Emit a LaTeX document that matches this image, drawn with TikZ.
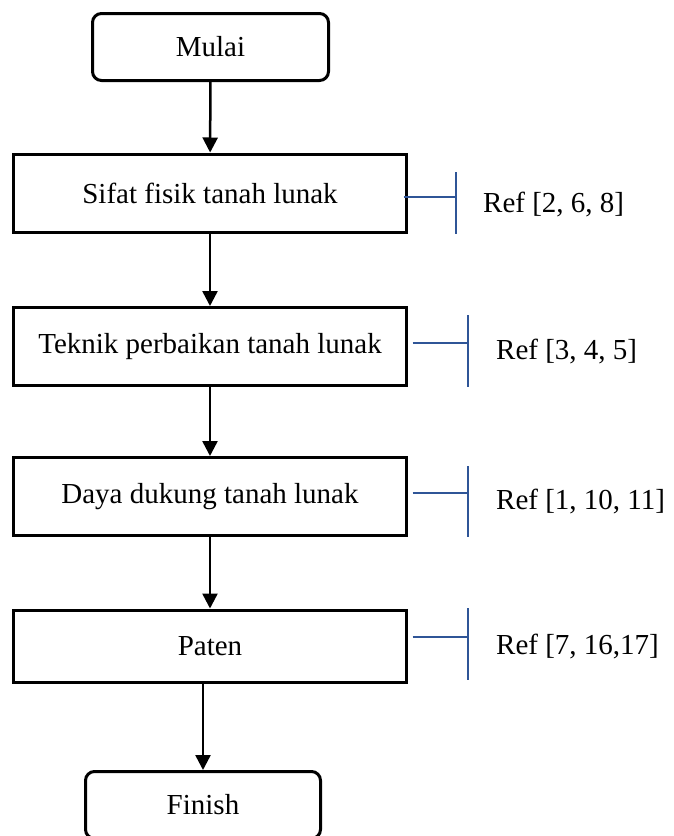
\documentclass[tikz,border=0pt]{standalone}
\usepackage{fontspec}
\setmainfont{Liberation Serif}
\usetikzlibrary{arrows.meta, positioning}
\definecolor{refblue}{RGB}{47,85,151}
\tikzset{
  stepbox/.style={draw, line width=3pt, minimum width=393pt, minimum height=78pt, inner sep=0pt},
  termbox/.style={draw, line width=3pt, rounded corners=9pt, minimum width=236pt, minimum height=67pt, inner sep=0pt},
  flow/.style={line width=2.5pt, -{Triangle[width=15pt,length=15pt]}},
  refline/.style={draw=refblue, line width=1.8pt},
  reflabel/.style={anchor=west, inner sep=0pt},
}

\begin{document}
\begin{tikzpicture}[x=1pt, y=-1pt, font=\fontsize{29}{34}\selectfont]
  \useasboundingbox (0,0) rectangle (673,836);
  \clip (0,0) rectangle (673,836);
  % flow
  \node[termbox] (mulai) at (210.5,47) {Mulai};
  \node[stepbox] (sifat) at (210,193) {Sifat fisik tanah lunak};
  \node[stepbox] (teknik) at (210,346.5) {Teknik perbaikan tanah lunak};
  \node[stepbox] (daya) at (210,496.5) {Daya dukung tanah lunak};
  \node[stepbox, minimum height=72pt] (paten) at (210,646) {Paten};
  \node[termbox, minimum width=235pt] (finish) at (203,805) {Finish};
  \draw[flow] (mulai) -- (sifat);
  \draw[flow] (sifat) -- (teknik);
  \draw[flow] (teknik) -- (daya);
  \draw[flow] (daya) -- (paten);
  \draw[flow] (finish.north |- paten.south) -- (finish.north);
  % references
  \coordinate (bar1) at (456,197);
  \coordinate (bar2) at (468,343);
  \coordinate (bar3) at (468,493);
  \coordinate (bar4) at (468,637);
  \draw[refline] ([xshift=-4.5pt]sifat.east |- bar1) -- (bar1);
  \draw[refline] ([xshift=4.5pt]teknik.east |- bar2) -- (bar2);
  \draw[refline] ([xshift=4.5pt]daya.east |- bar3) -- (bar3);
  \draw[refline] ([xshift=4.5pt]paten.east |- bar4) -- (bar4);
  \draw[refline] (456,172) -- (456,234);
  \draw[refline] (468,315) -- (468,387);
  \draw[refline] (468,466) -- (468,537);
  \draw[refline] (468,608) -- (468,680);
  \node[reflabel] (ref1) at (483,205) {Ref [2, 6, 8]};
  \node[reflabel] (ref2) at (496,352) {Ref [3, 4, 5]};
  \node[reflabel] (ref3) at (496,502) {Ref [1, 10, 11]};
  \node[reflabel] (ref4) at (496,647) {Ref [7, 16,17]};
\end{tikzpicture}
\end{document}
